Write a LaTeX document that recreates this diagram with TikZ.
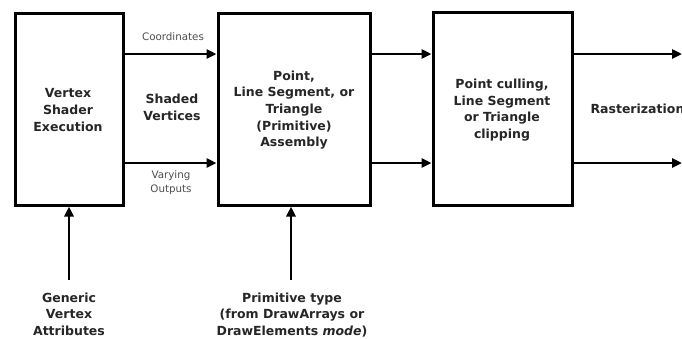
\documentclass[tikz,border=0pt]{standalone}
\usepackage{fontspec}
\setmainfont{DejaVu Sans}
\usetikzlibrary{arrows.meta}
\begin{document}
\begin{tikzpicture}[x=1pt,y=-1pt,
  stage/.style={draw,line width=3pt,rectangle,inner sep=0pt},
  bodytext/.style={font=\bfseries\fontsize{12.5}{16.7}\selectfont,align=center,text=black!85},
  smalltext/.style={font=\fontsize{10.3}{14}\selectfont,align=center,text=black!70},
  arr/.style={line width=2.6pt,-{Triangle[length=10pt,width=9pt]}}]
\useasboundingbox (0,0) rectangle (682,338);
\clip (0,0) rectangle (682,338);
% pipeline stages
\node[stage,minimum width=108pt,minimum height=192pt] (vs) at (69,109) {};
\node[stage,minimum width=152pt,minimum height=192pt] (pa) at (294,109) {};
\node[stage,minimum width=139pt,minimum height=193pt] (cl) at (502.5,108.5) {};
\node[bodytext] at (68,110) {Vertex\\Shader\\Execution};
\node[bodytext] at (294,110) {Point,\\Line Segment, or\\Triangle\\(Primitive)\\Assembly};
\node[bodytext] at (502,110) {Point culling,\\Line Segment\\or Triangle\\clipping};
% data paths between stages
\coordinate (top) at (0,54);
\coordinate (bot) at (0,163);
\coordinate (outtop) at (682,54);
\coordinate (outbot) at (682,163);
\draw[arr] (vs.east |- top) -- (pa.west |- top);
\draw[arr] (vs.east |- bot) -- (pa.west |- bot);
\draw[arr] (pa.east |- top) -- (cl.west |- top);
\draw[arr] (pa.east |- bot) -- (cl.west |- bot);
\draw[arr] (cl.east |- top) -- (outtop);
\draw[arr] (cl.east |- bot) -- (outbot);
\node[smalltext] (coord) at (173,37) {Coordinates};
\node[bodytext] (shaded) at (172,107) {Shaded\\Vertices};
\node[smalltext] (vary) at (171,183) {Varying\\Outputs};
\node[bodytext,anchor=west] (rast) at (587,109) {Rasterization};
% inputs from below
\node[bodytext,anchor=north] (gen) at (69,289) {Generic\\Vertex\\Attributes};
\node[bodytext,anchor=north] (prim) at (292,289) {Primitive type\\(from DrawArrays or\\DrawElements \textit{mode})};
\draw[arr] (69,280) -- (vs.south);
\draw[arr] (291,280) -- (291,0 |- pa.south);
\end{tikzpicture}
\end{document}
